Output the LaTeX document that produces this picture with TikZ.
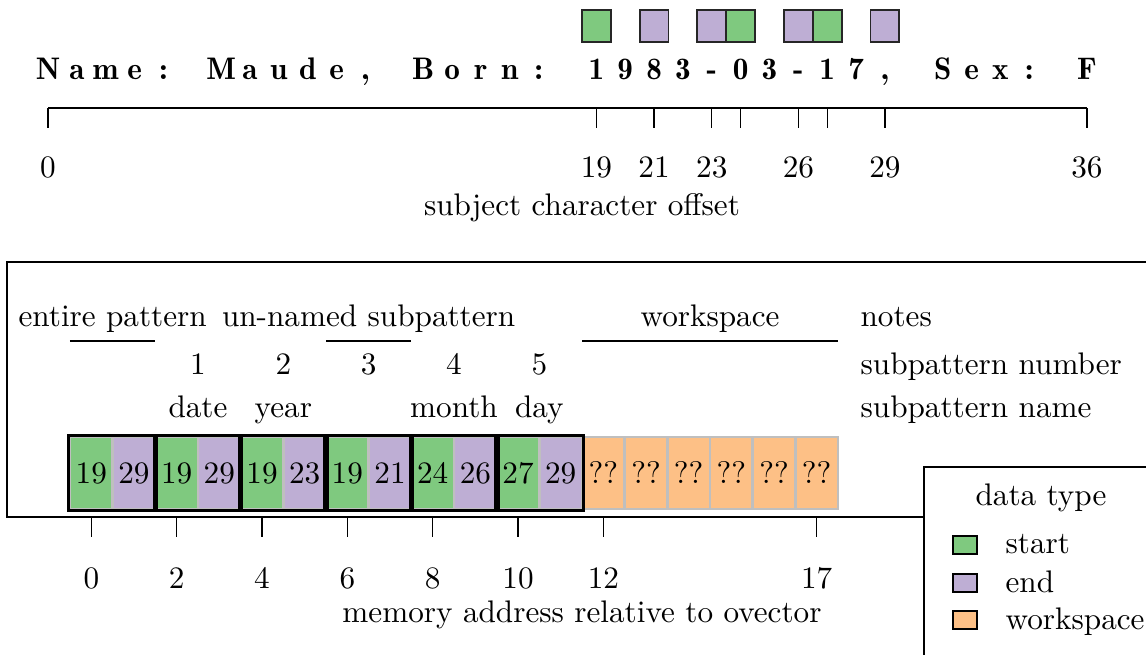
\documentclass[tikz,border=0pt]{standalone}
\usepackage{fontspec}
\usepackage{tikz}
\usetikzlibrary{positioning}
\newfontfamily\demifont{lmromandemi10-regular.otf}
\definecolor{acGreen}{HTML}{7FC97F}
\definecolor{acPurple}{HTML}{BEAED4}
\definecolor{acOrange}{HTML}{FDC086}

\begin{document}
\begin{tikzpicture}[x=0.3205pt, y=-0.3205pt,
  chr/.style={font=\demifont, anchor=base, inner sep=0pt},
  lbl/.style={anchor=base, inner sep=0pt},
  hitsq/.style={draw=black!85, line width=0.6pt},
  cell/.style={draw=black!25, line width=0.8pt, minimum width=13.68pt, minimum height=23.1pt, inner sep=0pt},
  pairbox/.style={draw=black, line width=1pt},
  keysq/.style={draw=black, line width=0.7pt},
]
  \useasboundingbox (0,0) rectangle (1146,655);
  \clip (0,0) rectangle (1146,655);
  \def\cx{48}\def\cw{28.861}
  \def\mx{91.33}\def\mw{42.67}

  % subject string, one character per offset
  \foreach \ch [count=\i from 0] in {N,a,m,e,:,{},M,a,u,d,e,{,},{},B,o,r,n,:,{},1,9,8,3,-,0,3,-,1,7,{,},{},S,e,x,:,{},F}
    \node[chr] (c\i) at (\cx+\i*\cw,80) {\ch};
  \foreach \o/\t in {19/acGreen,21/acPurple,23/acPurple,24/acGreen,26/acPurple,27/acGreen,29/acPurple}
    \draw[hitsq, fill=\t] (\cx+\o*\cw-0.5*\cw,10) rectangle (\cx+\o*\cw+0.5*\cw,42);

  \coordinate (a0) at (\cx,108);
  \coordinate (a36) at (\cx+36*\cw,108);
  \draw (a0) -- (a36);
  \foreach \o in {0,19,21,23,24,26,27,29,36}
    \draw (\cx+\o*\cw,108) -- ++(0,20);
  \foreach \o in {0,19,21,23,26,29,36}
    \node[lbl] (t\o) at (\cx+\o*\cw,177) {\o};
  \node[lbl] (soff) at (582,216) {subject character offset};

  % ovector
  \draw (7,262) rectangle (1170,517);
  \foreach \s/\e [count=\k from 0] in {19/29,19/29,19/23,19/21,24/26,27/29} {
    \pgfmathtruncatemacro\ia{2*\k}
    \pgfmathtruncatemacro\ib{2*\k+1}
    \node[cell, fill=acGreen] (m\ia) at (\mx+\ia*\mw,473) {\s};
    \node[cell, fill=acPurple] (m\ib) at (\mx+\ib*\mw,473) {\e};
  }
  \foreach \i in {12,...,17}
    \node[cell, fill=acOrange] (m\i) at (\mx+\i*\mw,473) {??};
  \foreach \k in {0,...,5} {
    \pgfmathtruncatemacro\ia{2*\k}
    \pgfmathtruncatemacro\ib{2*\k+1}
    \draw[pairbox] (m\ia.north west) rectangle (m\ib.south east);
  }

  \foreach \k/\n in {1/date,2/year,3/{},4/month,5/day} {
    \node[lbl] (num\k) at (\mx+2*\k*\mw+0.5*\mw,375) {\k};
    \node[lbl] (nm\k) at (\mx+2*\k*\mw+0.5*\mw,417) {\n};
  }
  \node[lbl] (nEnt) at (\mx+0.5*\mw,326) {entire pattern};
  \node[lbl] (nSub) at (\mx+6.5*\mw,326) {un-named subpattern};
  \node[lbl] (nWs) at (\mx+14.5*\mw,326) {workspace};
  \draw[semithick] (\mx-0.5*\mw,341) -- (\mx+1.5*\mw,341);
  \draw[semithick] (\mx+5.5*\mw,341) -- (\mx+7.5*\mw,341);
  \draw[semithick] (\mx+11.5*\mw,341) -- (\mx+17.5*\mw,341);
  \node[lbl, anchor=base west] (hNotes) at (860,326) {notes};
  \node[lbl, anchor=base west] (hNum) at (860,374) {subpattern number};
  \node[lbl, anchor=base west] (hName) at (860,418) {subpattern name};

  \foreach \i in {0,2,4,6,8,10,12,17} {
    \draw (\mx+\i*\mw,517) -- ++(0,20);
    \node[lbl] (b\i) at (\mx+\i*\mw,588) {\i};
  }
  \node[lbl] (mcap) at (582,623) {memory address relative to ovector};

  % legend
  \draw[line width=0.6pt, fill=white] (924,467) rectangle (1180,700);
  \node (lgT) at (1041,498) {data type};
  \foreach \t/\c/\yb in {start/acGreen/554,end/acPurple/592,workspace/acOrange/629} {
    \draw[keysq, fill=\c] (953,\yb-18) rectangle (977,\yb);
    \node[lbl, anchor=base west] (lg\t) at (1005,\yb) {\t};
  }
\end{tikzpicture}
\end{document}
